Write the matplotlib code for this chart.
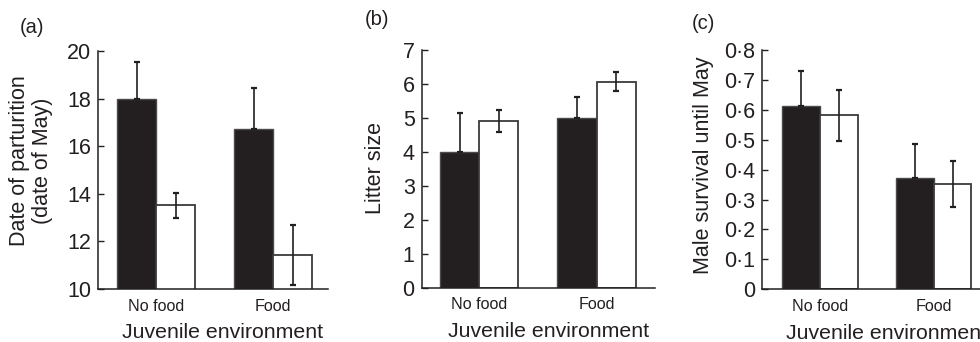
import matplotlib
matplotlib.use("Agg")
import matplotlib.pyplot as plt
from matplotlib.ticker import FuncFormatter

plt.rcParams['font.family'] = ['Liberation Sans', 'DejaVu Sans']

groups = ["No food", "Food"]
xlab = "Juvenile environment"

# (a) date of parturition
a_black = [18.0, 16.72]
a_black_err = [1.52, 1.73]
a_white = [13.52, 11.42]
a_white_err = [0.53, 1.25]

# (b) litter size
b_black = [4.0, 5.0]
b_black_err = [1.15, 0.62]
b_white = [4.9, 6.07]
b_white_err = [0.32, 0.27]

# (c) male survival
c_black = [0.611, 0.373]
c_black_err = [0.119, 0.114]
c_white = [0.582, 0.353]
c_white_err = [0.085, 0.077]

dark = '#231f20'
centers = [0, 3]

fig = plt.figure(figsize=(9.8, 3.42), dpi=100)

panels = [
    dict(rect=[0.100, 0.155, 0.2347, 0.696], black=a_black, berr=a_black_err,
         white=a_white, werr=a_white_err, ylim=(10, 20), yticks=[10, 12, 14, 16, 18, 20],
         xlim=(-1.49, 4.41), ylabel="Date of parturition\n(date of May)",
         ylab_xy=(-0.29, 0.54), tag="(a)", tag_xy=(-0.339, 1.14), fmt=None),
    dict(rect=[0.4303, 0.159, 0.238, 0.695], black=b_black, berr=b_black_err,
         white=b_white, werr=b_white_err, ylim=(0, 7), yticks=list(range(8)),
         xlim=(-1.47, 4.49), ylabel="Litter size",
         ylab_xy=(-0.196, 0.505), tag="(b)", tag_xy=(-0.243, 1.166), fmt=None),
    dict(rect=[0.7779, 0.154, 0.2327, 0.700], black=c_black, berr=c_black_err,
         white=c_white, werr=c_white_err, ylim=(0, 0.8),
         yticks=[0, 0.1, 0.2, 0.3, 0.4, 0.5, 0.6, 0.7, 0.8],
         xlim=(-1.53, 4.5), ylabel="Male survival until May",
         ylab_xy=(-0.26, 0.519), tag="(c)", tag_xy=(-0.31, 1.15), fmt='dot'),
]

for p in panels:
    ax = fig.add_axes(p['rect'])
    xb = [c - 0.5 for c in centers]
    xw = [c + 0.5 for c in centers]
    ax.bar(xb, p['black'], width=1.0, color=dark, edgecolor='#4a4a4a', linewidth=1.0, zorder=2)
    ax.bar(xw, p['white'], width=1.0, color='white', edgecolor='#3a3a3a', linewidth=1.3, zorder=2)
    ax.errorbar(xb, p['black'], yerr=[[0, 0], p['berr']], fmt='none', ecolor=dark,
                elinewidth=1.2, capsize=2.2, capthick=1.6, zorder=3)
    ax.errorbar(xw, p['white'], yerr=p['werr'], fmt='none', ecolor=dark,
                elinewidth=1.2, capsize=2.2, capthick=1.6, zorder=3)

    ax.set_xlim(*p['xlim'])
    ax.set_ylim(*p['ylim'])
    ax.set_yticks(p['yticks'])
    if p['fmt'] == 'dot':
        ax.yaxis.set_major_formatter(FuncFormatter(
            lambda v, pos: "0" if abs(v) < 1e-9 else ("%.1f" % v).replace(".", "\u00b7")))
    ax.set_xticks(centers)
    ax.set_xticklabels(groups)

    for s in ['top', 'right']:
        ax.spines[s].set_visible(False)
    for s in ['left', 'bottom']:
        ax.spines[s].set_linewidth(1.1)
        ax.spines[s].set_color(dark)

    ax.tick_params(axis='y', direction='in', length=4, width=1.0, color=dark,
                   labelsize=15.5, pad=5, labelcolor=dark)
    ax.tick_params(axis='x', length=0, labelsize=11.6, pad=7, labelcolor=dark)

    ax.set_ylabel(p['ylabel'], fontsize=15.5, color=dark, va='center', ha='center',
                  multialignment='center', linespacing=1.1)
    ax.yaxis.set_label_coords(*p['ylab_xy'])
    ax.set_xlabel(xlab, fontsize=15.3, color=dark, va='baseline')
    ax.xaxis.set_label_coords(0.543, -0.206)

    ax.text(p['tag_xy'][0], p['tag_xy'][1], p['tag'], transform=ax.transAxes,
            fontsize=14.5, color=dark, ha='left', va='top')

fig.savefig("out.png", dpi=100)
